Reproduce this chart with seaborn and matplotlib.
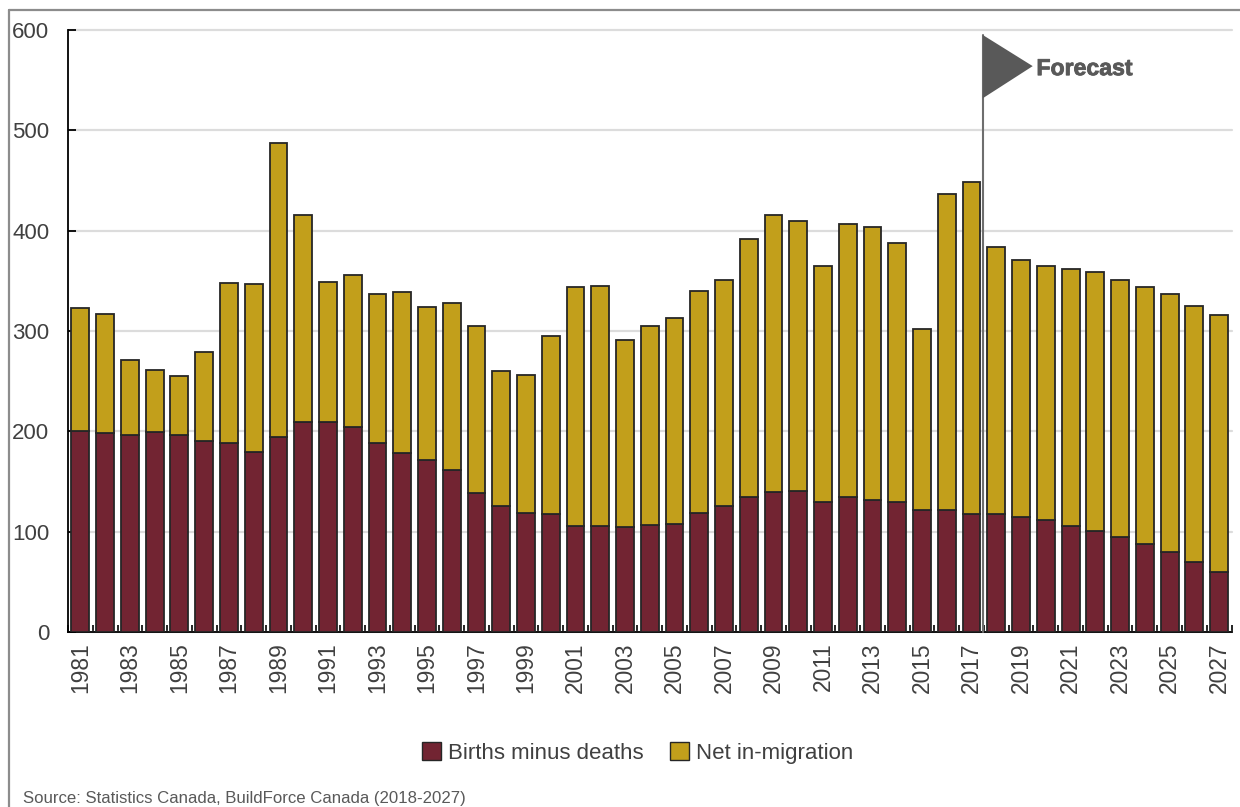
import matplotlib
matplotlib.use("Agg")
import matplotlib.pyplot as plt
import matplotlib.patheffects as path_effects
from matplotlib.lines import Line2D
from matplotlib.patches import Patch, Polygon
import numpy as np
import pandas as pd
import seaborn as sns

years = list(range(1981, 2028))
births_minus_deaths = [200, 198, 196, 199, 196, 190, 188, 179, 194, 209, 209, 204, 188, 178, 171, 161,
                       139, 126, 119, 118, 106, 106, 105, 107, 108, 119, 126, 135, 140, 141, 130, 135,
                       132, 130, 122, 122, 118, 118, 115, 112, 106, 101, 95, 88, 80, 70, 60]
net_in_migration = [123, 119, 75, 62, 59, 89, 160, 168, 293, 207, 140, 152, 149, 161, 153, 167,
                    166, 134, 137, 177, 238, 239, 186, 198, 205, 221, 225, 257, 276, 269, 235, 272,
                    272, 258, 180, 315, 331, 266, 256, 253, 256, 258, 256, 256, 257, 255, 256]

BIRTH_COLOR = "#722432"
MIGRATION_COLOR = "#C29F1B"
TEXT_COLOR = "#404040"
FLAG_COLOR = "#595959"

sns.set_theme(style="white")
plt.rcParams["font.family"] = ["Liberation Sans", "DejaVu Sans"]

W, H = 1240, 807
fig = plt.figure(figsize=(W / 100, H / 100), dpi=100)
ax = fig.add_axes([68 / W, 1 - 632 / H, (1231.5 - 68) / W, (632 - 30) / H])

df = pd.DataFrame({"year": years, "births": births_minus_deaths, "net": net_in_migration})

# Stacked columns: natural increase at the base, migration on top of it
bar_style = dict(width=0.72, edgecolor="#262626", linewidth=1.3, zorder=3)
sns.barplot(data=df, x="year", y="births", color=BIRTH_COLOR, saturation=1, ax=ax, **bar_style)
sns.barplot(data=df, x="year", y="net", color=MIGRATION_COLOR, saturation=1, ax=ax,
            bottom=df["births"].to_numpy(), **bar_style)

ax.set_xlim(-0.5, len(years) - 0.5)
ax.set_ylim(0, 600)
ax.set_xlabel("")
ax.set_ylabel("")

ax.yaxis.grid(True, color="#dcdcdc", linewidth=1.6, zorder=0, clip_on=False)
ax.set_axisbelow(True)
for side in ("top", "right"):
    ax.spines[side].set_visible(False)
for side in ("left", "bottom"):
    ax.spines[side].set_visible(True)
    ax.spines[side].set_color("black")
    ax.spines[side].set_linewidth(1.3)

# Y axis: inward ticks with labels sitting well to the left of the spine
ax.set_yticks(range(0, 601, 100))
ax.tick_params(axis="y", direction="in", length=5.5, width=1.3, color="black", left=True,
               labelsize=16, labelcolor=TEXT_COLOR, pad=13.5)

# X axis: labels every other year, inward ticks on the category boundaries
ax.set_xticks(range(0, len(years), 2))
ax.set_xticklabels([str(y) for y in years[::2]], rotation=90, fontsize=16.4, color=TEXT_COLOR)
ax.tick_params(axis="x", which="major", length=0, pad=7.5)
ax.set_xticks(np.arange(-0.5, len(years)), minor=True)
ax.tick_params(axis="x", which="minor", direction="in", length=5, width=1.2, color="black", bottom=True)

# Forecast flag
flag_x = 36.455
ax.plot([flag_x, flag_x], [0, 595], color="#6e6e6e", linewidth=1.5, zorder=4, clip_on=False)
ax.add_patch(Polygon([(flag_x, 595), (38.47, 564), (flag_x, 532)], closed=True,
                     facecolor=FLAG_COLOR, edgecolor="none", zorder=5))
ax.text(38.62, 561.5, "Forecast", fontsize=16.6, fontweight="bold", color=FLAG_COLOR,
        ha="left", va="center", zorder=5,
        path_effects=[path_effects.withStroke(linewidth=0.6, foreground=FLAG_COLOR)])

handles = [Patch(facecolor=BIRTH_COLOR, edgecolor="#262626", linewidth=1),
           Patch(facecolor=MIGRATION_COLOR, edgecolor="#262626", linewidth=1)]
fig.legend(handles, ["Births minus deaths", "Net in-migration"], ncol=2, frameon=False,
           loc="center", bbox_to_anchor=(637.5 / W, 1 - 753 / H), fontsize=16,
           labelcolor=TEXT_COLOR, handlelength=0.85, handleheight=0.85, handletextpad=0.3,
           columnspacing=1.2, borderpad=0)

fig.text(23 / W, 1 - 798 / H, "Source: Statistics Canada, BuildForce Canada (2018-2027)",
         fontsize=12.1, color=FLAG_COLOR, ha="left", va="center")

# Outer frame: only the top and left edges fall inside the canvas
frame = dict(color="#8c8c8c", linewidth=1.6, transform=fig.transFigure)
fig.add_artist(Line2D([9 / W, 1], [1 - 10 / H, 1 - 10 / H], **frame))
fig.add_artist(Line2D([9 / W, 9 / W], [1 - 10 / H, 0], **frame))

fig.savefig("out.png", dpi=100, facecolor="white")
